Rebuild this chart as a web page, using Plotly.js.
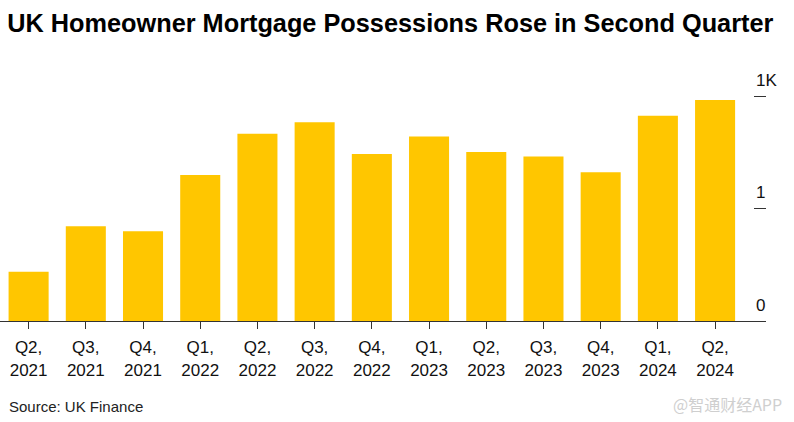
<!DOCTYPE html>
<html>
<head>
<meta charset="utf-8">
<script src="https://cdn.plot.ly/plotly-3.0.1.min.js"></script>
<style>
  html, body { margin: 0; padding: 0; background: #fff; }
  #chart { width: 794px; height: 422px; }
</style>
</head>
<body>
<div id="chart"></div>
<script>
const quarters = ["Q2,<br>2021","Q3,<br>2021","Q4,<br>2021","Q1,<br>2022","Q2,<br>2022","Q3,<br>2022","Q4,<br>2022","Q1,<br>2023","Q2,<br>2023","Q3,<br>2023","Q4,<br>2023","Q1,<br>2024","Q2,<br>2024"];
const possessions = [219, 421, 399, 649, 832, 883, 742, 820, 751, 731, 661, 912, 982];
const yTickVals = [0, 500, 1000];
const yTickText = ["0", "1", "1K"];

const trace = {
  type: "bar",
  x: quarters,
  y: possessions,
  marker: { color: "#FFC600", line: { width: 0 } },
  hoverinfo: "skip"
};

const layout = {
  width: 794,
  height: 422,
  margin: { l: 0, r: 28, t: 94, b: 101, pad: 0 },
  paper_bgcolor: "#ffffff",
  plot_bgcolor: "#ffffff",
  bargap: 0.3,
  showlegend: false,
  font: { family: "Liberation Sans, Arial, sans-serif", color: "#111" },
  title: {
    text: "<b>UK Homeowner Mortgage Possessions Rose in Second Quarter</b>",
    font: { family: "Liberation Sans, Arial, sans-serif", size: 25.3, color: "#000" },
    x: 7.5 / 794, xanchor: "left", xref: "paper",
    y: 1 - 23.5 / 422, yanchor: "middle", yref: "container"
  },
  xaxis: {
    type: "category",
    range: [-0.5, 12.89],
    showgrid: false,
    zeroline: false,
    showline: true,
    linecolor: "#333",
    linewidth: 1,
    ticks: "outside",
    ticklen: 7,
    tickcolor: "#333",
    tickwidth: 1,
    tickfont: { size: 17, color: "#111" },
    ticklabelstandoff: 4,
    fixedrange: true
  },
  yaxis: {
    side: "right",
    range: [0, 1009],
    tickmode: "array",
    tickvals: yTickVals,
    ticktext: yTickText,
    showgrid: false,
    zeroline: false,
    showline: false,
    ticks: "inside",
    ticklen: 12,
    tickcolor: "#333",
    tickwidth: 1,
    tickfont: { size: 17, color: "#111" },
    ticklabelstandoff: -11,
    ticklabelshift: -16,
    fixedrange: true
  },
  annotations: [
    {
      text: "Source: UK Finance",
      xref: "paper", yref: "paper",
      x: 7 / 766, y: -(406 - 320.5) / 227,
      xanchor: "left", yanchor: "middle",
      showarrow: false,
      font: { size: 15, color: "#222" }
    },
    {
      text: "@智通财经APP",
      xref: "paper", yref: "paper",
      x: 784 / 766, y: -(403 - 320.5) / 227,
      xanchor: "right", yanchor: "middle",
      showarrow: false,
      font: { family: "Noto Sans CJK SC, sans-serif", size: 16, color: "#cfcfcf" }
    }
  ]
};

Plotly.newPlot("chart", [trace], layout, { displayModeBar: false, staticPlot: true });
</script>
</body>
</html>
